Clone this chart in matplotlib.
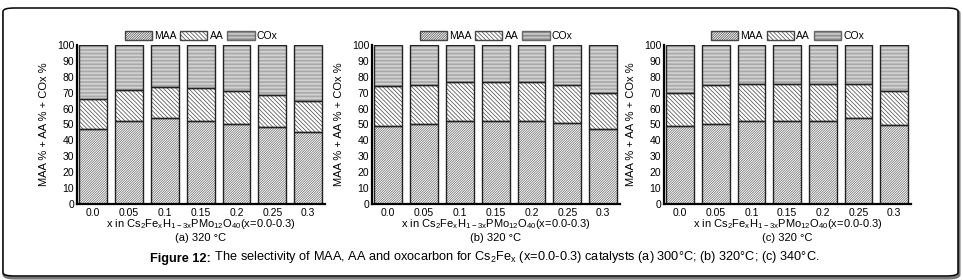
import numpy as np
import matplotlib.pyplot as plt
from matplotlib.patches import Patch, FancyBboxPatch

plt.rcParams['font.family'] = ['Liberation Sans', 'DejaVu Sans']
plt.rcParams['mathtext.default'] = 'regular'
plt.rcParams['hatch.linewidth'] = 0.5

# Data (percent)
x_labels = ["0.0", "0.05", "0.1", "0.15", "0.2", "0.25", "0.3"]

maa_a = [47, 52.5, 54, 52.5, 50.5, 48.5, 45.5]
top_a = [66, 72, 73.5, 73, 71, 68.5, 65]

maa_b = [49, 50.5, 52, 52, 52, 51, 47]
top_b = [74, 75, 77, 77, 77, 75, 69.5]

maa_c = [49, 50.5, 52.5, 52.5, 52.5, 54, 49.5]
top_c = [70, 75, 75.5, 75.5, 75.5, 75.5, 71]

panel_titles = ["(a) 320 °C", "(b) 320 °C", "(c) 320 °C"]
xlabel = "x in Cs$_2$Fe$_x$H$_{1-3x}$PMo$_{12}$O$_{40}$(x=0.0-0.3)"

h_maa = '/' * 14
h_aa = '\\' * 8
h_cox = '-' * 12

W, H = 963, 280
fig = plt.figure(figsize=(W / 100, H / 100), dpi=100)

# rounded frame around the figure
shadow = FancyBboxPatch((4 / W, 2 / H), 955 / W, 268 / H, boxstyle="round,pad=0,rounding_size=0.012",
                        transform=fig.transFigure, fc='none', ec='#777777', lw=2.2, zorder=-10)
frame = FancyBboxPatch((3 / W, 4 / H), 955 / W, 268 / H, boxstyle="round,pad=0,rounding_size=0.012",
                       transform=fig.transFigure, fc='white', ec='black', lw=1.1, zorder=-9)
fig.patches.extend([shadow, frame])

# axes boxes in pixels: left, right
boxes = [(77, 325), (372, 620), (664, 911)]
top_px, bot_px = 45, 204

data = [(maa_a, top_a), (maa_b, top_b), (maa_c, top_c)]

for (l, r), (maa, top), title in zip(boxes, data, panel_titles):
    ax = fig.add_axes([l / W, (H - bot_px) / H, (r - l) / W, (bot_px - top_px) / H])
    ax.patch.set_alpha(0)
    maa = np.array(maa)
    top = np.array(top)
    aa = top - maa
    cox = 100 - top
    pos = np.arange(len(x_labels))
    w = 0.78
    ax.bar(pos, maa, w, color='white', edgecolor='#666666', hatch=h_maa, lw=0)
    ax.bar(pos, aa, w, bottom=maa, color='white', edgecolor='#444444', hatch=h_aa, lw=0)
    ax.bar(pos, cox, w, bottom=top, color='#f2f2f2', edgecolor='#8a8a8a', hatch=h_cox, lw=0)
    for b, hgt in [(0, maa), (maa, aa), (top, cox)]:
        ax.bar(pos, hgt, w, bottom=b, fill=False, edgecolor='#222222', lw=1.0)
    ax.set_xlim(-0.45, 6.47)
    ax.set_ylim(0, 100)
    ax.set_yticks(range(0, 101, 10))
    ax.set_xticks(pos)
    ax.set_xticklabels(x_labels)
    ax.tick_params(axis='both', length=0, labelsize=7.5, pad=2)
    ax.tick_params(axis='x', pad=3)
    for s in ['top', 'right']:
        ax.spines[s].set_visible(False)
    ax.spines['left'].set_linewidth(1.6)
    ax.spines['bottom'].set_linewidth(1.6)
    ax.set_ylabel("MAA % + AA % + COx %", fontsize=8, labelpad=6)
    ax.set_xlabel(xlabel, fontsize=8, labelpad=-1)
    ax.text(0.5, -0.18, title, transform=ax.transAxes, ha='center', va='top', fontsize=8)
    handles = [Patch(facecolor='white', edgecolor='#444444', hatch=h_maa, label='MAA'),
               Patch(facecolor='white', edgecolor='#444444', hatch=h_aa, label='AA'),
               Patch(facecolor='#f2f2f2', edgecolor='#666666', hatch=h_cox, label='COx')]
    ax.legend(handles=handles, loc='lower center', bbox_to_anchor=(0.5, 0.99), ncol=3, frameon=False,
              fontsize=7.5, handlelength=2.6, handleheight=0.9, handletextpad=0.2, columnspacing=0.4,
              borderaxespad=0.1)

cap_font = ['Liberation Sans Narrow', 'Liberation Sans', 'DejaVu Sans']
t1 = fig.text(150 / W, (H - 262) / H, "Figure 12:", fontsize=9.2, fontweight='bold', family=cap_font)
fig.axes[0].annotate(" The selectivity of MAA, AA and oxocarbon for Cs$_2$Fe$_x$ (x=0.0-0.3) catalysts (a) 300°C; (b) 320°C; (c) 340°C.",
                     xy=(1, 0), xycoords=t1, va='bottom', ha='left', fontsize=9.2, family=cap_font,
                     annotation_clip=False)

fig.savefig("out.png", dpi=100)
